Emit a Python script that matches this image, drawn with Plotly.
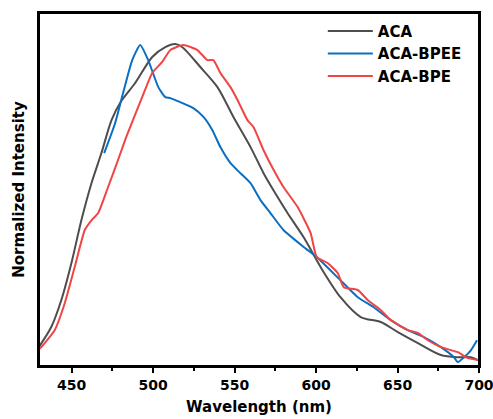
import plotly.graph_objects as go

# ACA
aca_x = [430, 437.6, 443.7, 449.9, 456, 462.2, 468.3, 474.5, 480, 489, 499.5, 507.5, 513.6, 518,
         529, 539.5, 549.3, 559.8, 567.8, 575, 582.5, 592.4, 600.4, 602.8, 615, 627.4, 639.7,
         650.2, 662.5, 676.6, 687, 695, 699.4]
aca_y = [0.036, 0.100, 0.185, 0.303, 0.439, 0.557, 0.653, 0.758, 0.815, 0.876, 0.959, 0.990, 1.0, 0.99,
         0.927, 0.863, 0.768, 0.672, 0.589, 0.525, 0.462, 0.385, 0.312, 0.290, 0.194, 0.131, 0.115,
         0.083, 0.048, 0.010, 0.003, 0.003, -0.006]

# ACA-BPEE
bpee_x = [470, 476.7, 481.6, 487.2, 492.1, 497, 503.2, 507.5, 510.6, 516.7, 524.7, 530.9, 536.4,
          541.3, 547.5, 553.6, 559.8, 565.9, 572, 580, 592.4, 600.4, 615, 625.6, 635.4, 645.9,
          656.3, 666.2, 676.6, 684.6, 687, 690.8, 695, 698.8]
bpee_y = [0.653, 0.748, 0.844, 0.949, 0.997, 0.949, 0.863, 0.831, 0.828, 0.815, 0.796, 0.768, 0.726,
          0.672, 0.621, 0.589, 0.557, 0.503, 0.462, 0.408, 0.354, 0.322, 0.248, 0.194, 0.162, 0.121,
          0.089, 0.067, 0.035, 0.003, -0.013, 0.003, 0.025, 0.057]

# ACA-BPE
bpe_x = [430, 431.4, 439.6, 445.8, 451.9, 458.1, 462.2, 466.3, 472.4, 478.5, 483.5, 493.3, 499.5, 505.6,
         510.6, 518.6, 527.2, 533.3, 537, 541.3, 547.5, 551.8, 557.9, 561.6, 567.8, 574, 580, 588.7,
         596.7, 600.4, 607.1, 613.3, 617, 625.6, 631.7, 639.7, 645.9, 656.3, 662.5, 668.6, 676.6,
         687, 693.2, 699.4]
bpe_y = [0.028, 0.035, 0.089, 0.175, 0.290, 0.408, 0.439, 0.462, 0.545, 0.631, 0.704, 0.831, 0.908, 0.943,
         0.981, 0.997, 0.981, 0.949, 0.949, 0.908, 0.863, 0.822, 0.758, 0.736, 0.662, 0.599, 0.545, 0.481,
         0.398, 0.322, 0.303, 0.271, 0.226, 0.217, 0.185, 0.153, 0.121, 0.089, 0.080, 0.057, 0.035,
         0.019, 0.0, -0.006]

x_ticks = [450, 500, 550, 600, 650, 700]

FONT = "DejaVu Sans"

fig = go.Figure()
fig.add_trace(go.Scatter(x=aca_x, y=aca_y, mode="lines", name="ACA",
                         line=dict(color="#4d4d4d", width=2, shape="spline", smoothing=0.8)))
fig.add_trace(go.Scatter(x=bpee_x, y=bpee_y, mode="lines", name="ACA-BPEE",
                         line=dict(color="#0a6fc2", width=2, shape="spline", smoothing=0.5)))
fig.add_trace(go.Scatter(x=bpe_x, y=bpe_y, mode="lines", name="ACA-BPE",
                         line=dict(color="#f04545", width=2, shape="spline", smoothing=0.5)))

# plot frame
fig.add_shape(type="rect", xref="paper", yref="paper", x0=0, x1=1, y0=0, y1=1,
              line=dict(color="black", width=2), fillcolor="rgba(0,0,0,0)", layer="above")

fig.update_layout(
    width=493, height=419,
    margin=dict(l=39, r=14, t=13, b=53, autoexpand=False),
    paper_bgcolor="white", plot_bgcolor="white",
    font=dict(family=FONT, color="black"),
    showlegend=True,
    legend=dict(x=0.645, y=0.995, xanchor="left", yanchor="top",
                bgcolor="rgba(0,0,0,0)", tracegroupgap=0,
                font=dict(size=15, family=FONT, weight="bold"),
                itemwidth=45),
    xaxis=dict(range=[430, 700], tickvals=x_ticks, ticks="outside", ticklen=5, tickwidth=1.5,
               tickcolor="black", showline=True, linecolor="black", linewidth=2, mirror=True,
               showgrid=False, zeroline=False, automargin=False, ticklabeloverflow="allow",
               tickfont=dict(size=14, weight="bold"),
               minor=dict(ticks="outside", ticklen=3, tickwidth=1.5, dtick=25, tick0=425,
                          tickcolor="black", showgrid=False),
               title=dict(text="Wavelength (nm)", font=dict(size=15, weight="bold"), standoff=10)),
    yaxis=dict(range=[-0.025, 1.099], showticklabels=False, ticks="", showline=True,
               linecolor="black", linewidth=2, mirror=True, showgrid=False, zeroline=False,
               automargin=False,
               title=dict(text="Normalized Intensity", font=dict(size=15, weight="bold"), standoff=9)),
)

fig.write_html("out.html", post_script="document.body.style.margin='0';",
               config={"displayModeBar": False})
